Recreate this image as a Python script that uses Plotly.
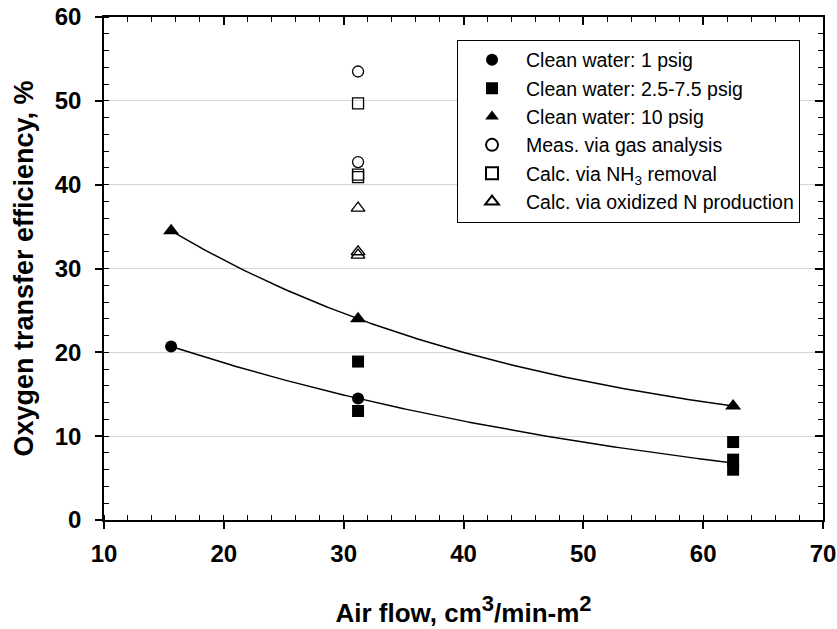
import numpy as np
import plotly.graph_objects as go

# Air flow (cm3/min-m2) and oxygen transfer efficiency (%) data
cw1_x = [15.6, 31.2, 62.5]
cw1_y = [20.7, 14.5, 6.8]

cw25_x = [31.2, 31.2, 62.5, 62.5, 62.5]
cw25_y = [18.9, 13.0, 9.3, 7.2, 6.0]

cw10_x = [15.6, 31.2, 62.5]
cw10_y = [34.5, 24.0, 13.6]

gas_x = [31.2, 31.2]
gas_y = [53.5, 42.7]

nh3_x = [31.2, 31.2, 31.2]
nh3_y = [49.7, 41.2, 40.9]

oxn_x = [31.2, 31.2, 31.2]
oxn_y = [37.2, 32.0, 31.6]

x_ticks = [10, 20, 30, 40, 50, 60, 70]
y_ticks = [0, 10, 20, 30, 40, 50, 60]


def exp_offset_fit(x, y):
    """Fit y = c + a*exp(b*x) through three points (bisection on b)."""
    x = np.asarray(x, float)
    y = np.asarray(y, float)
    target = (y[0] - y[1]) / (y[1] - y[2])

    def ratio(b):
        e = np.exp(b * x)
        return (e[0] - e[1]) / (e[1] - e[2])

    lo, hi = -0.3, -1e-6
    for _ in range(200):
        mid = 0.5 * (lo + hi)
        if ratio(mid) > target:
            lo = mid
        else:
            hi = mid
    b = 0.5 * (lo + hi)
    e = np.exp(b * x)
    a = (y[0] - y[1]) / (e[0] - e[1])
    c = y[0] - a * e[0]
    return a, b, c


FONT = "Liberation Sans, Arial, sans-serif"
fig = go.Figure()

# trend curves
for xs, ys in [(cw1_x, cw1_y), (cw10_x, cw10_y)]:
    a, b, c = exp_offset_fit(xs, ys)
    xf = np.linspace(min(xs), max(xs), 200)
    fig.add_trace(go.Scatter(x=xf, y=c + a * np.exp(b * xf), mode="lines",
                             line=dict(color="black", width=1.5),
                             showlegend=False, hoverinfo="skip"))

series = [
    ("Clean water: 1 psig", cw1_x, cw1_y, "circle", 12, 0),
    ("Clean water: 2.5-7.5 psig", cw25_x, cw25_y, "square", 12, 0),
    ("Clean water: 10 psig", cw10_x, cw10_y, "triangle-up", 14, 0),
    ("Meas. via gas analysis", gas_x, gas_y, "circle-open", 11, 1.3),
    ("Calc. via NH<sub>3</sub> removal", nh3_x, nh3_y, "square-open", 11, 1.3),
    ("Calc. via oxidized N production", oxn_x, oxn_y, "triangle-up-open", 12, 1.3),
]
for name, xs, ys, sym, size, lw in series:
    fig.add_trace(go.Scatter(
        x=xs, y=ys, mode="markers", name=name,
        marker=dict(symbol=sym, size=size, color="black",
                    line=dict(color="black", width=lw)),
    ))

# mirrored frame axes on top and right
fig.add_trace(go.Scatter(x=[None], y=[None], xaxis="x2", yaxis="y2",
                         showlegend=False, hoverinfo="skip"))

tick_font = dict(family=FONT, size=24, color="black", weight="bold")
title_font = dict(family=FONT, size=26, color="black", weight="bold")

fig.update_layout(
    template="none",
    width=837, height=629,
    margin=dict(l=104, r=14, t=17, b=109),
    paper_bgcolor="white", plot_bgcolor="white",
    xaxis=dict(range=[10, 70], tickvals=x_ticks, ticktext=[str(v) for v in x_ticks],
               automargin=False,
               showline=True, linecolor="black", linewidth=1.5,
               ticks="outside", ticklen=7, tickwidth=1.5, tickcolor="black",
               ticklabelstandoff=4,
               minor=dict(ticks="inside", dtick=2, ticklen=5, tickwidth=1, tickcolor="black"),
               showgrid=False, zeroline=False, tickfont=tick_font,
               title=dict(text="Air flow, cm<sup><span style='font-size:22px'>3</span></sup>"
                               "/min-m<sup><span style='font-size:22px'>2</span></sup>",
                          font=title_font, standoff=38)),
    yaxis=dict(range=[0, 60], tickvals=y_ticks, ticktext=[str(v) for v in y_ticks],
               automargin=False,
               showline=True, linecolor="black", linewidth=1.5,
               ticks="outside", ticklen=7, tickwidth=1.5, tickcolor="black",
               ticklabelstandoff=9,
               minor=dict(ticks="inside", dtick=2, ticklen=5, tickwidth=1,
                          tickcolor="black", showgrid=False),
               showgrid=True, gridcolor="#d4d4d4", gridwidth=1, zeroline=False,
               tickfont=tick_font,
               title=dict(text="Oxygen transfer efficiency, %",
                          font=dict(family=FONT, size=27, color="black", weight="bold"),
                          standoff=13)),
    xaxis2=dict(range=[10, 70], overlaying="x", side="top", anchor="y",
                automargin=False,
                showline=True, linecolor="black", linewidth=1.5,
                tickvals=x_ticks, ticks="inside", ticklen=8, tickwidth=1.5, tickcolor="black",
                minor=dict(ticks="inside", dtick=2, ticklen=5, tickwidth=1, tickcolor="black"),
                showticklabels=False, showgrid=False, zeroline=False),
    yaxis2=dict(range=[0, 60], overlaying="y", side="right", anchor="x",
                automargin=False,
                showline=True, linecolor="black", linewidth=1.5,
                tickvals=y_ticks, ticks="inside", ticklen=8, tickwidth=1.5, tickcolor="black",
                minor=dict(ticks="inside", dtick=2, ticklen=5, tickwidth=1, tickcolor="black"),
                showticklabels=False, showgrid=False, zeroline=False),
    legend=dict(x=0.491, y=0.955, xanchor="left", yanchor="top",
                bgcolor="white", bordercolor="black", borderwidth=1,
                font=dict(family=FONT, size=19.5, color="black"),
                traceorder="normal", itemwidth=58, itemsizing="constant"),
    showlegend=True,
)

fig.write_html("out.html")
